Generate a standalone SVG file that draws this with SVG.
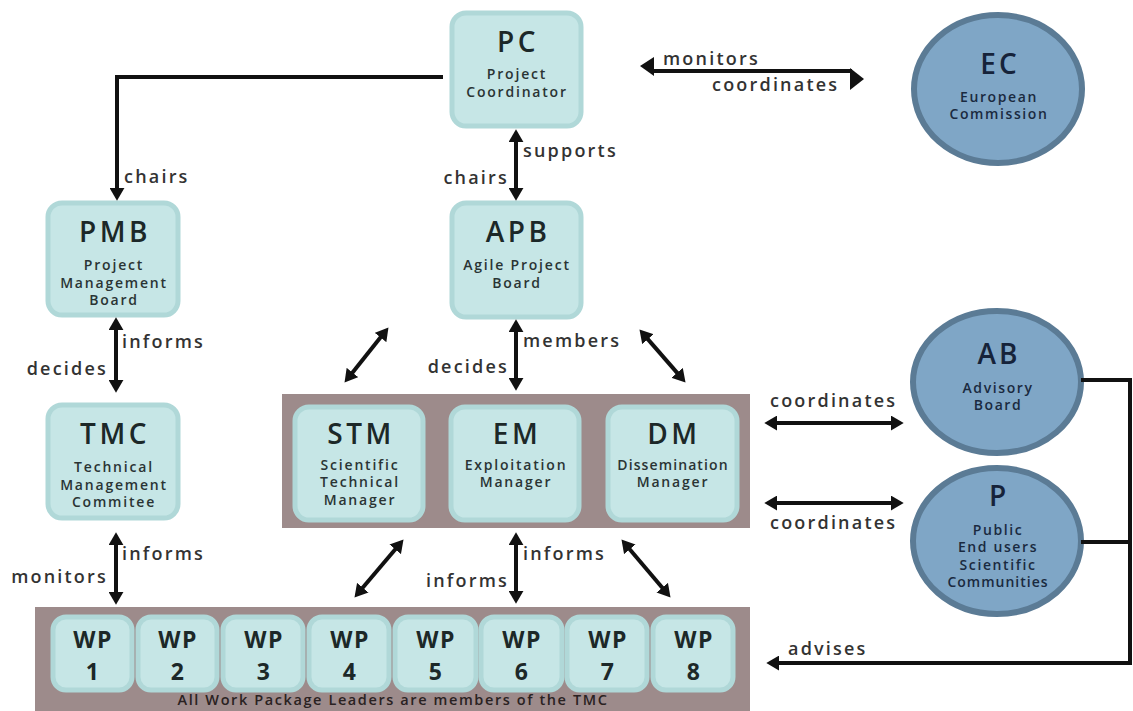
<svg xmlns="http://www.w3.org/2000/svg" width="1133" height="711" viewBox="0 0 1133 711">
<defs>
<marker id="ah" viewBox="0 0 12 14" refX="2" refY="7" markerWidth="13" markerHeight="15" markerUnits="userSpaceOnUse" orient="auto-start-reverse">
<path d="M0,0 L12,7 L0,14 z" fill="#111"/>
</marker>
<style>
.box{fill:#c6e6e6;stroke:#b0d8d8;stroke-width:5}
.cont{fill:#9d8b8b}
.circ{fill:#7fa6c6;stroke:#5b7b95;stroke-width:6}
.h{font-family:"Open Sans","Liberation Sans",sans-serif;font-weight:600;font-size:28px;fill:#1c2828;text-anchor:middle;letter-spacing:3.5px}
.s{font-family:"Open Sans","Liberation Sans",sans-serif;font-weight:600;font-size:14px;fill:#2a3434;text-anchor:middle;letter-spacing:1.8px}
.ch{font-family:"Open Sans","Liberation Sans",sans-serif;font-weight:600;font-size:28px;fill:#16233a;text-anchor:middle;letter-spacing:3px}
.cs{font-family:"Open Sans","Liberation Sans",sans-serif;font-weight:600;font-size:14px;fill:#1a2a40;text-anchor:middle;letter-spacing:1.6px}
.wp{font-family:"Open Sans","Liberation Sans",sans-serif;font-weight:700;font-size:23px;fill:#1c2828;text-anchor:middle;letter-spacing:1.5px}
.lb{font-family:"Open Sans","Liberation Sans",sans-serif;font-weight:600;font-size:18px;fill:#333;letter-spacing:2.2px}
.le{text-anchor:end}
.cap{font-family:"Open Sans","Liberation Sans",sans-serif;font-weight:600;font-size:14.5px;fill:#2a2222;text-anchor:middle;letter-spacing:1.6px}
.ln{fill:none;stroke:#111;stroke-width:4}
.ar{marker-end:url(#ah)}
.da{marker-start:url(#ah);marker-end:url(#ah)}
</style>
</defs>

<g id="containers">
<rect class="cont" x="282" y="394" width="468" height="134"/>
<rect class="cont" x="35" y="607" width="715" height="104"/>
</g>

<g id="PC"><rect class="box" x="452" y="13" width="129" height="113" rx="14"/>
<text class="h" x="518" y="52">PC</text>
<text class="s" x="517" y="79">Project</text>
<text class="s" x="517" y="97">Coordinator</text></g>

<g id="PMB"><rect class="box" x="48" y="203" width="130" height="112" rx="14"/>
<text class="h" x="115" y="242">PMB</text>
<text class="s" x="114" y="270">Project</text>
<text class="s" x="114" y="288">Management</text>
<text class="s" x="114" y="305">Board</text></g>

<g id="APB"><rect class="box" x="452" y="203" width="129" height="114" rx="14"/>
<text class="h" x="518" y="242">APB</text>
<text class="s" x="517" y="270">Agile Project</text>
<text class="s" x="517" y="288">Board</text></g>

<g id="TMC"><rect class="box" x="48" y="405" width="130" height="113" rx="14"/>
<text class="h" x="115" y="444">TMC</text>
<text class="s" x="114" y="472">Technical</text>
<text class="s" x="114" y="490">Management</text>
<text class="s" x="114" y="507">Commitee</text></g>

<g id="STM"><rect class="box" x="295" y="407" width="128" height="113" rx="14"/>
<text class="h" x="361" y="444">STM</text>
<text class="s" x="360" y="470">Scientific</text>
<text class="s" x="360" y="487">Technical</text>
<text class="s" x="360" y="505">Manager</text></g>

<g id="EM"><rect class="box" x="451" y="407" width="128" height="113" rx="14"/>
<text class="h" x="517" y="444">EM</text>
<text class="s" x="516" y="470">Exploitation</text>
<text class="s" x="516" y="487">Manager</text></g>

<g id="DM"><rect class="box" x="608" y="407" width="129" height="113" rx="14"/>
<text class="h" x="674" y="444">DM</text>
<text class="s" x="673" y="470" style="letter-spacing:1.1px">Dissemination</text>
<text class="s" x="673" y="487">Manager</text></g>

<g id="EC"><ellipse class="circ" cx="998" cy="89" rx="84" ry="74"/>
<text class="ch" x="1000" y="74">EC</text>
<text class="cs" x="999" y="102">European</text>
<text class="cs" x="999" y="119">Commission</text></g>

<g id="AB"><ellipse class="circ" cx="997" cy="382" rx="84" ry="71"/>
<text class="ch" x="999" y="364">AB</text>
<text class="cs" x="998" y="393">Advisory</text>
<text class="cs" x="998" y="410">Board</text></g>

<g id="P"><ellipse class="circ" cx="997" cy="541" rx="84" ry="73"/>
<text class="ch" x="999" y="506">P</text>
<text class="cs" x="998" y="535">Public</text>
<text class="cs" x="998" y="552">End users</text>
<text class="cs" x="998" y="570">Scientific</text>
<text class="cs" x="998" y="587" style="letter-spacing:1px">Communities</text></g>

<g id="WP1"><rect class="box" x="53" y="617" width="79" height="73" rx="13"/><text class="wp" x="93" y="648">WP</text><text class="wp" x="93" y="680">1</text></g>
<g id="WP2"><rect class="box" x="138" y="617" width="79" height="73" rx="13"/><text class="wp" x="178" y="648">WP</text><text class="wp" x="178" y="680">2</text></g>
<g id="WP3"><rect class="box" x="223" y="617" width="80" height="73" rx="13"/><text class="wp" x="264" y="648">WP</text><text class="wp" x="264" y="680">3</text></g>
<g id="WP4"><rect class="box" x="309" y="617" width="80" height="73" rx="13"/><text class="wp" x="350" y="648">WP</text><text class="wp" x="350" y="680">4</text></g>
<g id="WP5"><rect class="box" x="395" y="617" width="81" height="73" rx="13"/><text class="wp" x="436" y="648">WP</text><text class="wp" x="436" y="680">5</text></g>
<g id="WP6"><rect class="box" x="481" y="617" width="81" height="73" rx="13"/><text class="wp" x="522" y="648">WP</text><text class="wp" x="522" y="680">6</text></g>
<g id="WP7"><rect class="box" x="567" y="617" width="80" height="73" rx="13"/><text class="wp" x="608" y="648">WP</text><text class="wp" x="608" y="680">7</text></g>
<g id="WP8"><rect class="box" x="653" y="617" width="80" height="73" rx="13"/><text class="wp" x="694" y="648">WP</text><text class="wp" x="694" y="680">8</text></g>
<text class="cap" x="393" y="705">All Work Package Leaders are members of the TMC</text>

<g id="connectors">
<path class="ln ar" d="M443,77 H117 V190"/>
<line class="ln da" x1="516" y1="140" x2="516" y2="190"/>
<line class="ln da" x1="116" y1="328" x2="116" y2="382"/>
<line class="ln da" x1="116" y1="543" x2="116" y2="594"/>
<line class="ln da" x1="516" y1="330" x2="516" y2="380"/>
<line class="ln da" x1="516" y1="543" x2="516" y2="593"/>
<line class="ln da" x1="381.8" y1="335.8" x2="351.2" y2="374.2"/>
<line class="ln da" x1="646.5" y1="337.6" x2="678.5" y2="374.4"/>
<line class="ln da" x1="396.6" y1="547.7" x2="361.4" y2="589.3"/>
<line class="ln da" x1="628.4" y1="547.7" x2="663.6" y2="589.3"/>
<line class="ln da" x1="775" y1="423" x2="893" y2="423"/>
<line class="ln da" x1="775" y1="503" x2="893" y2="503"/>
<path class="ln" d="M1081,380 H1130 V663"/>
<path class="ln" d="M1081,542 H1130"/>
<path class="ln ar" d="M1132,663 H777"/>
<line class="ln" x1="652" y1="71" x2="852" y2="71"/>
<polygon points="654,57 654,76 640,66" fill="#111"/>
<polygon points="850,68 850,90 864,79" fill="#111"/>
</g>

<g id="labels">
<text class="lb" x="124" y="183">chairs</text>
<text class="lb" x="523" y="157">supports</text>
<text class="lb le" x="509" y="184">chairs</text>
<text class="lb" x="663" y="65">monitors</text>
<text class="lb" x="712" y="91">coordinates</text>
<text class="lb" x="122" y="348">informs</text>
<text class="lb le" x="108" y="375">decides</text>
<text class="lb" x="523" y="347">members</text>
<text class="lb le" x="509" y="373">decides</text>
<text class="lb" x="770" y="407">coordinates</text>
<text class="lb" x="770" y="529">coordinates</text>
<text class="lb" x="122" y="560">informs</text>
<text class="lb le" x="108" y="583">monitors</text>
<text class="lb" x="523" y="560">informs</text>
<text class="lb le" x="509" y="587">informs</text>
<text class="lb" x="788" y="655">advises</text>
</g>
</svg>
